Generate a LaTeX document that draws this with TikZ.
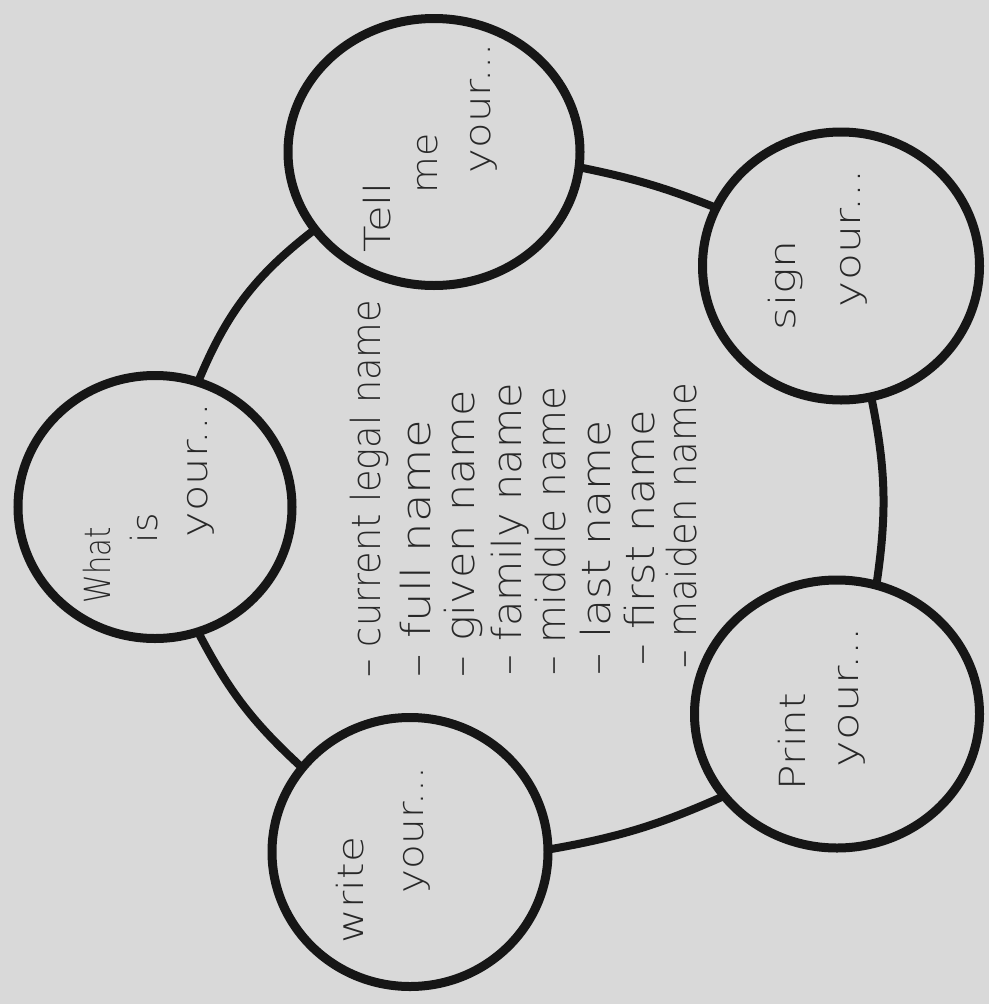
\documentclass[tikz,border=0pt]{standalone}
\usepackage{fontspec}
\usepackage{graphicx}
\usetikzlibrary{shapes.geometric,backgrounds}
\IfFontExistsTF{DejaVu Sans ExtraLight}{\newfontfamily\hand{DejaVu Sans ExtraLight}}{\newfontfamily\hand{DejaVu Sans}}
\definecolor{bg}{RGB}{217,217,217}
\definecolor{ink}{RGB}{22,22,22}
\definecolor{pen}{RGB}{40,40,40}
\newcommand\fitto[2]{\resizebox{#1pt}{\height}{#2}}
\begin{document}
\begin{tikzpicture}[x=1pt,y=1pt,
  bubble/.style={ellipse, draw=ink, fill=bg, line width=9pt, inner sep=0pt, outer sep=0pt},
  link/.style={draw=ink, line width=8pt},
  word/.style={rotate=90, anchor=base west, inner sep=0pt, outer sep=0pt, text=pen, font=\hand\fontsize{36}{40}\selectfont},
  item/.style={word, font=\hand\fontsize{40}{44}\selectfont}]
\useasboundingbox (0,0) rectangle (989,-1004);
% circles
\node[bubble, minimum width=292pt, minimum height=267pt] (tell)  at (434,-152) {};
\node[bubble, minimum width=274pt, minimum height=263pt] (what)  at (155,-507) {};
\node[bubble, minimum width=276pt, minimum height=269pt] (write) at (410,-852) {};
\node[bubble, minimum width=285pt, minimum height=268pt] (print) at (837,-714) {};
\node[bubble, minimum width=277pt, minimum height=268pt] (sign)  at (841,-266) {};
% connectors (the big ring)
\begin{pgfonlayer}{background}
\fill[bg] (0,0) rectangle (989,-1004);
\draw[link] (tell.213)  to[bend right=15] (what.71);
\draw[link] (what.289)  to[bend right=10] (write.142);
\draw[link] (write.1)   to[bend right=7]  (print.216);
\draw[link] (print.73)  to[bend right=10] (sign.283);
\draw[link] (sign.155)  to[bend right=5]  (tell.354);
\end{pgfonlayer}
% circle texts
\node[word] (tellA)  at (390,-252) {\fitto{70}{Tell}};
\node[word] (tellB)  at (437,-193) {\fitto{60}{me}};
\node[word] (tellC)  at (490,-173) {\fitto{130}{your...}};
\node[word] (whatA)  at (110,-603) {\fitto{76}{What}};
\node[word] (whatB)  at (157,-543) {\fitto{30}{is}};
\node[word] (whatC)  at (207,-537) {\fitto{134}{your...}};
\node[word] (writeA) at (363,-943) {\fitto{106}{write}};
\node[word] (writeB) at (423,-893) {\fitto{126}{your...}};
\node[word] (printA) at (805,-790) {\fitto{97}{Print}};
\node[word] (printB) at (858,-767) {\fitto{140}{your...}};
\node[word] (signA)  at (795,-330) {\fitto{90}{sign}};
\node[word] (signB)  at (860,-307) {\fitto{137}{your...}};
% list
\node[item] (l1) at (380,-677) {\fitto{377}{– current legal name}};
\node[item] (l2) at (430,-677) {\fitto{257}{– full name}};
\node[item] (l3) at (474,-677) {\fitto{287}{– given name}};
\node[item] (l4) at (521,-675) {\fitto{292}{– family name}};
\node[item] (l5) at (565,-675) {\fitto{288}{– middle name}};
\node[item] (l6) at (610,-675) {\fitto{255}{– last name}};
\node[item] (l7) at (654,-665) {\fitto{255}{– first name}};
\node[item] (l8) at (696,-668) {\fitto{285}{– maiden name}};
\end{tikzpicture}
\end{document}
